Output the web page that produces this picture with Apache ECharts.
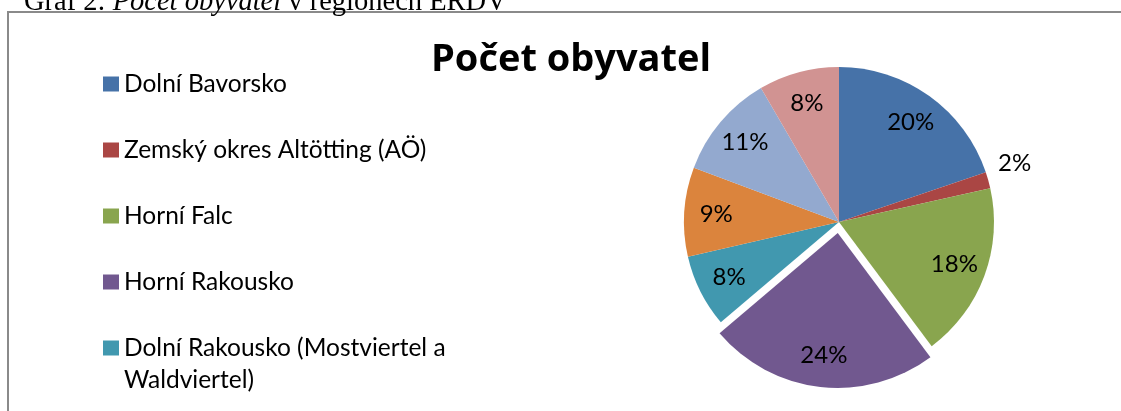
<!DOCTYPE html>
<html>
<head>
<meta charset="utf-8">
<title>Počet obyvatel</title>
<script src="https://cdn.jsdelivr.net/npm/echarts@6/dist/echarts.min.js"></script>
<style>
html, body { margin: 0; padding: 0; background: #fff; overflow: hidden; }
#chart { width: 1121px; height: 1100px; }
</style>
</head>
<body>
<div id="chart"></div>
<script>
// podíl obyvatel v regionech ERDV (%)
const regions = [
  'Dolní Bavorsko',
  'Zemský okres Altötting (AÖ)',
  'Horní Falc',
  'Horní Rakousko',
  'Dolní Rakousko (Mostviertel a Waldviertel)',
  'Plzeňský kraj',
  'Jihočeský kraj',
  'Kraj Vysočina'
];
const shares = [19.8, 1.7, 18.3, 24.0, 7.6, 9.3, 10.9, 8.4];
const colors = ['#4672a8', '#aa4644', '#89a54e', '#71588f', '#4198af', '#db843d', '#93a9cf', '#d19392'];
const explodedIndex = 3;   // Horní Rakousko je vysunutá
const outsideIndex = 1;    // 2 % popisek leží mimo výseč
const wrapIndex = 4;       // dlouhý název legendy na dva řádky

const chart = echarts.init(document.getElementById('chart'));

const fontFamily = 'Lato, "Open Sans", sans-serif';
const pieCenter = [839, 222];
const pieRadius = 155;

const sliceData = regions.map(function (name, i) {
  return {
    name: name,
    value: shares[i],
    selected: i === explodedIndex,
    itemStyle: { color: colors[i] }
  };
});

const labelData = regions.map(function (name, i) {
  const item = { name: name, value: shares[i], selected: i === explodedIndex };
  if (i === outsideIndex) {
    item.label = { position: 'outside' };
  }
  return item;
});

chart.setOption({
  animation: false,
  backgroundColor: '#fff',
  title: {
    text: 'Počet obyvatel',
    left: 431,
    top: 41,
    padding: 0,
    textStyle: {
      fontFamily: '"Open Sans", Lato, sans-serif',
      fontWeight: 'bold',
      fontSize: 38,
      color: '#000'
    }
  },
  legend: {
    orient: 'vertical',
    left: 103,
    top: 36,
    padding: 0,
    itemWidth: 16,
    itemHeight: 15,
    itemGap: -30,
    selectedMode: false,
    icon: 'rect',
    // prázdné řádky kolem textu drží první řádek u ikonky i u zalomené položky
    formatter: function (name) {
      const i = regions.indexOf(name);
      if (i === wrapIndex) {
        return '\n' + name.replace(' a Waldviertel', ' a\nWaldviertel');
      }
      if (i > wrapIndex) {
        return '\n\n' + name + '\n\n';
      }
      return '\n' + name + '\n';
    },
    textStyle: {
      fontFamily: fontFamily,
      fontSize: 24.5,
      lineHeight: 32,
      color: '#000'
    },
    data: regions
  },
  graphic: [
    {
      type: 'rect',
      z: -1,
      shape: { x: 8, y: 12, width: 1300, height: 1300 },
      style: { fill: 'none', stroke: '#8a8a8a', lineWidth: 2 }
    },
    {
      type: 'text',
      x: 24,
      y: 17,
      style: {
        text: 'Graf 2: {i|Počet obyvatel} v regionech ERDV',
        font: '28.5px "Liberation Serif", "DejaVu Serif", serif',
        verticalAlign: 'bottom',
        fill: '#000',
        rich: {
          i: { fontStyle: 'italic', fontSize: 28.5, fontFamily: '"Liberation Serif", serif' }
        }
      }
    }
  ],
  series: [
    {
      name: 'Počet obyvatel',
      type: 'pie',
      center: pieCenter,
      radius: pieRadius,
      startAngle: 90,
      clockwise: true,
      selectedMode: 'single',
      selectedOffset: 11,
      silent: true,
      emphasis: { disabled: true },
      label: { show: false },
      labelLine: { show: false },
      data: sliceData
    },
    {
      // průhledná kopie nese jen popisky, aby ležely blíž okraji
      name: 'popisky',
      type: 'pie',
      center: pieCenter,
      radius: [85, pieRadius],
      startAngle: 90,
      clockwise: true,
      selectedMode: 'single',
      selectedOffset: 11,
      silent: true,
      emphasis: { disabled: true },
      itemStyle: { color: 'transparent' },
      label: {
        show: true,
        position: 'inside',
        fontFamily: fontFamily,
        fontSize: 24,
        color: '#000',
        formatter: function (p) {
          return Math.round(p.percent) + '%';
        }
      },
      labelLine: { show: false, length: 5, length2: 0 },
      labelLayout: function (p) {
        return p.dataIndex === outsideIndex ? { dy: -16 } : {};
      },
      data: labelData
    }
  ]
});
</script>
</body>
</html>
